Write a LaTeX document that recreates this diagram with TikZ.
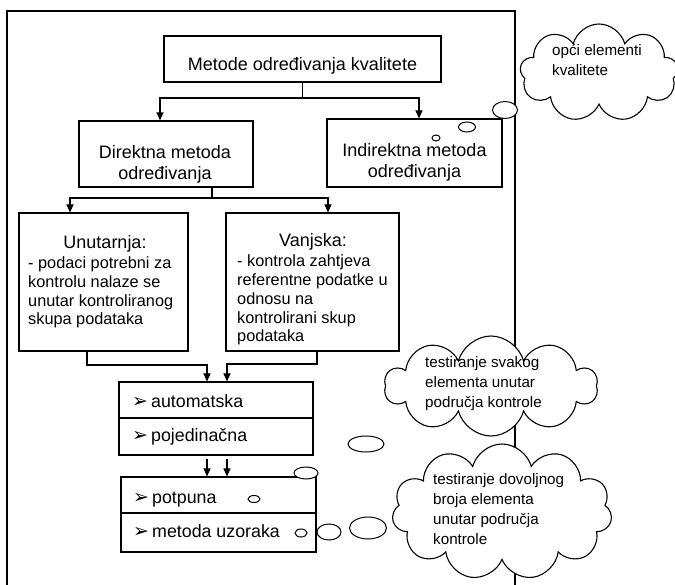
\documentclass[tikz,border=0pt]{standalone}
\usepackage{fontspec}
\setmainfont{Liberation Sans}
\newfontfamily\symfont{DejaVu Sans}
\usetikzlibrary{arrows.meta,shapes.geometric,shapes.symbols}
\newcommand{\bulmark}{\makebox[19pt][l]{\symfont\fontsize{19}{19}\selectfont ➢}}
\begin{document}
\begin{tikzpicture}[x=1pt,y=-1pt,
  box/.style={draw, line width=1.1pt, fill=white, inner sep=0pt, rectangle},
  ln/.style={line width=1.1pt},
  arr/.style={line width=1.1pt, -{Triangle[length=8pt,width=7pt]}},
  bub/.style={ellipse, draw, fill=white, line width=1pt, inner sep=0pt},
  cl/.style={cloud, draw, fill=white, line width=1.1pt, cloud ignores aspect, inner sep=0pt},
  ttl/.style={font=\fontsize{18}{21}\selectfont, inner sep=0pt, align=center},
  bod/.style={font=\fontsize{16.3}{18.8}\selectfont, inner sep=0pt, align=left},
  ctx/.style={font=\fontsize{15.2}{20}\selectfont, inner sep=0pt, align=left},
  rowt/.style={font=\fontsize{17.8}{21}\selectfont, inner sep=0pt}]
\useasboundingbox (0,0) rectangle (675,585);
\clip (0,0) rectangle (675,585);
\fill[white] (0,0) rectangle (675,585);
% frame
\node[draw, line width=1.1pt, minimum width=508, minimum height=640, inner sep=0pt] (frame) at (261,331) {};
% boxes
\node[box, minimum width=277, minimum height=46] (top) at (302.5,59) {};
\node[box, minimum width=174, minimum height=66] (dir) at (166,154) {};
\node[box, minimum width=175, minimum height=68] (ind) at (414.5,153) {};
\node[box, minimum width=169, minimum height=138] (unu) at (103.5,282) {};
\node[box, minimum width=173, minimum height=138] (van) at (312.5,282) {};
\node[box, minimum width=194, minimum height=36] (auto) at (216,400) {};
\node[box, minimum width=194, minimum height=37] (poj) at (216,436.5) {};
\node[box, minimum width=195, minimum height=36] (pot) at (218.5,495) {};
\node[box, minimum width=195, minimum height=39] (uzo) at (218.5,532.5) {};
% texts (base anchor = baseline of the last line)
\node[ttl, anchor=base] (topT) at (302.5,70.5) {Metode određivanja kvalitete};
\node[ttl, anchor=base] (dirT) at (165,180) {Direktna metoda\\određivanja};
\node[ttl, anchor=base] (indT) at (414.5,178) {Indirektna metoda\\određivanja};
\node[ttl, anchor=base] (unuH) at (105,249) {Unutarnja:};
\node[bod, anchor=base west] (unuB) at (28,325) {- podaci potrebni za\\kontrolu nalaze se\\unutar kontroliranog\\skupa podataka};
\node[ttl, anchor=base] (vanH) at (313,247) {Vanjska:};
\node[bod, anchor=base west] (vanB) at (237,342) {- kontrola zahtjeva\\referentne podatke u\\odnosu na\\kontrolirani skup\\podataka};
\node[rowt, anchor=base west] (autoT) at (132,407) {\bulmark automatska};
\node[rowt, anchor=base west] (pojT) at (132,441) {\bulmark pojedinačna};
\node[rowt, anchor=base west] (potT) at (133,503) {\bulmark potpuna};
\node[rowt, anchor=base west] (uzoT) at (133,537) {\bulmark metoda uzoraka};
% connectors
\coordinate (b1) at (160,98);
\coordinate (b2) at (419,98);
\draw[arr] (top.south) |- (b1) -- (b1 |- dir.north);
\draw[arr] (top.south) |- (b2) -- (b2 |- ind.north);
\coordinate (c1) at (212,198);
\coordinate (c2) at (70,198);
\coordinate (c3) at (328,198);
\draw[arr] (c1 |- dir.south) -- (c1) -- (c2) -- (c2 |- unu.north);
\draw[arr] (c1) -- (c3) -- (c3 |- van.north);
\coordinate (e1) at (87,365);
\coordinate (e2) at (207,365);
\draw[arr] (e1 |- unu.south) -- (e1) -- (e2) -- (e2 |- auto.north);
\coordinate (f1) at (317,364);
\coordinate (f2) at (227,364);
\draw[arr] (f1 |- van.south) -- (f1) -- (f2) -- (f2 |- auto.north);
\draw[arr, shorten <=3pt] (e2 |- poj.south) -- (e2 |- pot.north);
\draw[arr, shorten <=3pt] (f2 |- poj.south) -- (f2 |- pot.north);
% bubbles
\node[bub, minimum width=25, minimum height=17] (o1) at (505,110) {};
\node[bub, minimum width=17, minimum height=10] (o2) at (467,127) {};
\node[bub, minimum width=8, minimum height=6] (o3) at (436,138) {};
\node[bub, minimum width=24, minimum height=12] (o4) at (306,473) {};
\node[bub, minimum width=12, minimum height=7] (o5) at (254,499) {};
\node[bub, minimum width=12, minimum height=8] (o6) at (301,533) {};
\node[bub, minimum width=24, minimum height=16] (o7) at (329,532) {};
\node[bub, minimum width=37, minimum height=22] (o8) at (368,528) {};
\node[bub, minimum width=36, minimum height=16] (o9) at (366,444) {};
% clouds
\node[cl, cloud puffs=9, minimum width=158, minimum height=98] (k1) at (599,73) {};
\node[cl, cloud puffs=10, minimum width=213, minimum height=100] (k2) at (491,386) {};
\node[cl, cloud puffs=11, minimum width=220, minimum height=136] (k3) at (502,512) {};
\node[ctx, anchor=base west] (k1T) at (552,76) {opći elementi\\kvalitete};
\node[ctx, anchor=base west] (k2T) at (425,407) {testiranje svakog\\elementa unutar\\područja kontrole};
\node[ctx, anchor=base west] (k3T) at (433,544) {testiranje dovoljnog\\broja elementa\\unutar područja\\kontrole};
\end{tikzpicture}
\end{document}
